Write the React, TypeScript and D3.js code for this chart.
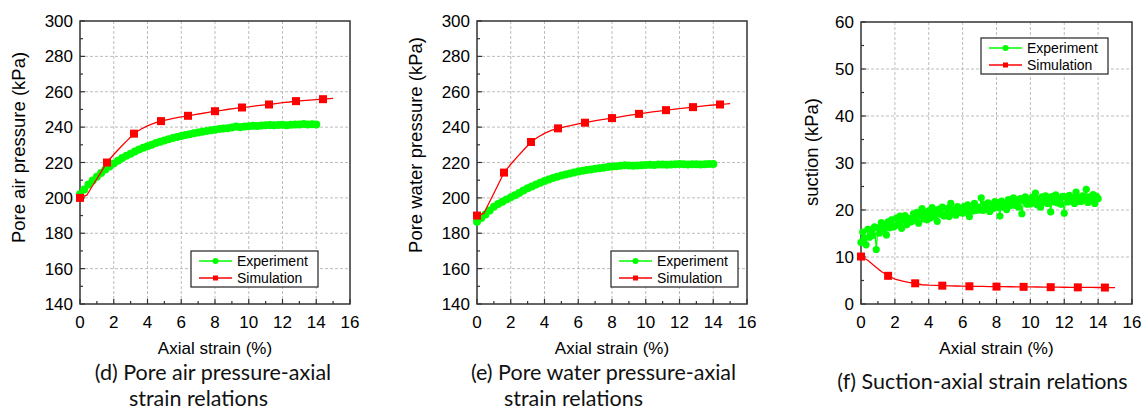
import React, { useRef, useEffect } from 'react';
import * as d3 from 'd3';

// strain (%) of the measured curves in (d) and (e)
const expStrain = [0, 0.25, 0.5, 0.75, 1, 1.25, 1.5, 1.75, 2, 2.25, 2.5, 2.75, 3, 3.25, 3.5, 3.75, 4, 4.25, 4.5, 4.75, 5, 5.25, 5.5, 5.75, 6, 6.25, 6.5, 6.75, 7, 7.25, 7.5, 7.75, 8, 8.25, 8.5, 8.75, 9, 9.25, 9.5, 9.75, 10, 10.25, 10.5, 10.75, 11, 11.25, 11.5, 11.75, 12, 12.25, 12.5, 12.75, 13, 13.25, 13.5, 13.75, 14];

// (d) pore air pressure, experiment (kPa)
const airExp = [202.0, 204.8, 207.5, 209.8, 212.0, 214.0, 216.0, 217.8, 219.5, 221.0, 222.5, 223.8, 225.0, 226.2, 227.3, 228.3, 229.2, 230.1, 231.0, 231.8, 232.5, 233.2, 233.8, 234.4, 235.0, 235.5, 236.0, 236.5, 237.0, 237.4, 237.8, 238.2, 238.5, 238.9, 239.2, 239.4, 239.8, 240.3, 240.0, 240.3, 240.5, 240.8, 240.6, 240.9, 241.0, 241.2, 241.0, 241.2, 241.3, 241.1, 241.4, 241.5, 241.5, 241.7, 241.5, 241.6, 241.5];

// (e) pore water pressure, experiment (kPa)
const waterExp = [186.5, 188.6, 190.6, 192.9, 195.0, 196.5, 197.8, 199.1, 200.3, 201.5, 202.7, 204.1, 205.5, 206.5, 207.5, 208.5, 209.5, 210.4, 211.2, 211.9, 212.6, 213.2, 213.8, 214.3, 214.9, 215.3, 215.7, 216.1, 216.5, 216.8, 217.1, 217.4, 217.7, 217.9, 218.1, 218.5, 218.3, 218.2, 218.3, 218.4, 218.6, 218.7, 218.6, 218.8, 218.8, 218.7, 218.9, 219.0, 219.2, 219.0, 218.9, 219.0, 219.0, 218.9, 219.0, 219.1, 219.2];

// strain (%) of the simulated curves; a marker sits on every 4th point
const simStrain = [0, 0.4, 0.8, 1.2, 1.6, 2.0, 2.4, 2.8, 3.2, 3.6, 4.0, 4.4, 4.8, 5.2, 5.6, 6.0, 6.4, 6.8, 7.2, 7.6, 8.0, 8.4, 8.8, 9.2, 9.6, 10.0, 10.4, 10.8, 11.2, 11.6, 12.0, 12.4, 12.8, 13.2, 13.6, 14.0, 14.4, 14.8, 15.0];
const airSim = [200, 201.5, 207.7, 213.8, 220, 224.5, 228.6, 232.5, 236.3, 238.8, 240.7, 242.2, 243.4, 244.3, 245.1, 245.8, 246.4, 247.1, 247.7, 248.4, 249, 249.5, 250.1, 250.6, 251.1, 251.5, 252, 252.4, 252.8, 253.3, 253.8, 254.2, 254.7, 255, 255.3, 255.6, 255.8, 256.1, 256.2];
const waterSim = [190, 191.2, 198.8, 206.4, 214.3, 219, 223.3, 227.5, 231.6, 234.3, 236.5, 238.1, 239.3, 240.2, 241, 241.8, 242.5, 243.2, 243.9, 244.5, 245.1, 245.7, 246.3, 246.9, 247.5, 248, 248.6, 249.1, 249.6, 250, 250.5, 250.9, 251.3, 251.7, 252.1, 252.5, 252.8, 253.1, 253.3];
const suctionSim = [10.1, 9.3, 8.1, 6.9, 6.0, 5.3, 4.9, 4.6, 4.4, 4.1, 4.0, 3.95, 3.9, 3.87, 3.83, 3.8, 3.77, 3.75, 3.73, 3.71, 3.7, 3.68, 3.67, 3.66, 3.65, 3.63, 3.62, 3.6, 3.58, 3.57, 3.56, 3.55, 3.54, 3.53, 3.52, 3.51, 3.5, 3.5, 3.5];

// (f) suction, experiment (noisy logger record)
const suctionStrain = [
  0, 0.1, 0.2, 0.3, 0.4, 0.5, 0.6, 0.7, 0.8, 0.9,
  1.0, 1.1, 1.2, 1.3, 1.4, 1.5, 1.6, 1.7, 1.8, 1.9,
  2.0, 2.1, 2.2, 2.3, 2.4, 2.5, 2.6, 2.7, 2.8, 2.9,
  3.0, 3.1, 3.2, 3.3, 3.4, 3.5, 3.6, 3.7, 3.8, 3.9,
  4.0, 4.1, 4.2, 4.3, 4.4, 4.5, 4.6, 4.7, 4.8, 4.9,
  5.0, 5.1, 5.2, 5.3, 5.4, 5.5, 5.6, 5.7, 5.8, 5.9,
  6.0, 6.1, 6.2, 6.3, 6.4, 6.5, 6.6, 6.7, 6.8, 6.9,
  7.0, 7.1, 7.2, 7.3, 7.4, 7.5, 7.6, 7.7, 7.8, 7.9,
  8.0, 8.1, 8.2, 8.3, 8.4, 8.5, 8.6, 8.7, 8.8, 8.9,
  9.0, 9.1, 9.2, 9.3, 9.4, 9.5, 9.6, 9.7, 9.8, 9.9,
  10.0, 10.1, 10.2, 10.3, 10.4, 10.5, 10.6, 10.7, 10.8, 10.9,
  11.0, 11.1, 11.2, 11.3, 11.4, 11.5, 11.6, 11.7, 11.8, 11.9,
  12.0, 12.1, 12.2, 12.3, 12.4, 12.5, 12.6, 12.7, 12.8, 12.9,
  13.0, 13.1, 13.2, 13.3, 13.4, 13.5, 13.6, 13.7, 13.8, 13.9,
  14.0,
];
const suctionExp = [
  13.1, 15.3, 14.0, 12.6, 15.9, 14.2, 15.8, 14.6, 16.4, 11.6,
  16.2, 15.1, 17.3, 15.9, 16.8, 14.7, 17.5, 16.2, 17.9, 16.4,
  16.6, 18.3, 17.0, 18.7, 16.1, 17.9, 18.8, 16.9, 18.2, 17.4,
  17.6, 19.2, 18.0, 19.5, 17.2, 18.9, 20.3, 18.1, 19.4, 17.9,
  19.8, 18.3, 20.5, 18.8, 19.9, 17.6, 20.2, 19.1, 20.6, 18.7,
  19.0, 20.3, 18.6, 21.4, 19.2, 20.1, 18.9, 20.7, 19.5, 20.2,
  19.3, 20.8, 19.6, 21.1, 18.6, 20.5, 19.8, 21.4, 19.9, 20.6,
  20.0, 22.6, 19.9, 21.2, 20.4, 21.5, 19.7, 21.0, 20.3, 21.8,
  20.5, 21.6, 18.7, 21.9, 20.6, 21.3, 20.1, 22.2, 20.9, 21.5,
  22.6, 21.0, 21.9, 20.6, 22.4, 19.2, 22.0, 22.8, 21.2, 22.1,
  21.3, 22.7, 21.5, 23.6, 21.1, 22.3, 20.6, 22.8, 21.7, 23.0,
  21.4, 22.6, 19.6, 22.9, 21.7, 23.2, 21.5, 22.5, 21.2, 22.9,
  19.3, 22.8, 21.7, 23.1, 21.9, 22.6, 21.4, 23.8, 21.8, 22.7,
  21.8, 23.0, 22.1, 24.4, 21.6, 22.8, 22.0, 23.3, 21.4, 22.9,
  22.4,
];

const legendNames = ['Experiment', 'Simulation'];

const AXIS_FONT = "'Liberation Sans', Arial, sans-serif";
const CAPTION_FONT = "Lato, 'Open Sans', sans-serif";
const GREEN = '#00ff00';
const RED = '#ff0000';

const panels = [
  {
    left: 80, right: 350, top: 21, bottom: 304,
    yDomain: [140, 300], yMajor: 8, yMinor: 16,
    yLabel: 'Pore air pressure (kPa)', yLabelX: 25, yLabelY: 147.5,
    expX: expStrain, expY: airExp, expR: 4, expW: 1.5,
    simY: airSim,
    legend: { x: 191, y: 251 },
    caption: [
      { text: '(d) Pore air pressure-axial', x: 213, y: 379.5 },
      { text: 'strain relations', x: 198.5, y: 405.5 },
    ],
  },
  {
    left: 477, right: 747, top: 21, bottom: 304,
    yDomain: [140, 300], yMajor: 8, yMinor: 16,
    yLabel: 'Pore water pressure (kPa)', yLabelX: 422, yLabelY: 145,
    expX: expStrain, expY: waterExp, expR: 4, expW: 1.5,
    simY: waterSim,
    legend: { x: 611, y: 251 },
    caption: [
      { text: '(e) Pore water pressure-axial', x: 603.5, y: 379.5 },
      { text: 'strain relations', x: 573.5, y: 405.5 },
    ],
  },
  {
    left: 861, right: 1132, top: 22, bottom: 304,
    yDomain: [0, 60], yMajor: 6, yMinor: 12,
    yLabel: 'suction (kPa)', yLabelX: 818, yLabelY: 152,
    expX: suctionStrain, expY: suctionExp, expR: 3.6, expW: 1.2,
    simY: suctionSim,
    legend: { x: 981, y: 38 },
    caption: [
      { text: '(f) Suction-axial strain relations', x: 982.5, y: 389 },
    ],
  },
];

const drawPanel = (svg, p) => {
  const x = d3.scaleLinear().domain([0, 16]).range([p.left, p.right]);
  const y = d3.scaleLinear().domain(p.yDomain).range([p.bottom, p.top]);
  const g = svg.append('g');

  // dashed grid on inner major ticks
  g.selectAll('.gx')
    .data(x.ticks(8).slice(1, -1))
    .enter()
    .append('line')
    .attr('x1', d => x(d)).attr('x2', d => x(d))
    .attr('y1', p.top).attr('y2', p.bottom)
    .attr('stroke', '#bdbdbd').attr('stroke-dasharray', '3,2');
  g.selectAll('.gy')
    .data(y.ticks(p.yMajor).slice(1, -1))
    .enter()
    .append('line')
    .attr('x1', p.left).attr('x2', p.right)
    .attr('y1', d => y(d)).attr('y2', d => y(d))
    .attr('stroke', '#bdbdbd').attr('stroke-dasharray', '3,2');

  // frame
  g.append('rect')
    .attr('x', p.left).attr('y', p.top)
    .attr('width', p.right - p.left).attr('height', p.bottom - p.top)
    .attr('fill', 'none').attr('stroke', '#333').attr('stroke-width', 1.5);

  // inward ticks
  const majX = x.ticks(8);
  g.selectAll('.tx')
    .data(x.ticks(16))
    .enter()
    .append('line')
    .attr('x1', d => x(d)).attr('x2', d => x(d))
    .attr('y1', p.bottom)
    .attr('y2', d => p.bottom - (majX.includes(d) ? 5 : 3))
    .attr('stroke', '#333').attr('stroke-width', 1.2);
  const majY = y.ticks(p.yMajor);
  g.selectAll('.ty')
    .data(y.ticks(p.yMinor))
    .enter()
    .append('line')
    .attr('y1', d => y(d)).attr('y2', d => y(d))
    .attr('x1', p.left)
    .attr('x2', d => p.left + (majY.includes(d) ? 5 : 3))
    .attr('stroke', '#333').attr('stroke-width', 1.2);

  // tick labels
  g.selectAll('.lx')
    .data(majX)
    .enter()
    .append('text')
    .attr('x', d => x(d)).attr('y', 328)
    .attr('text-anchor', 'middle')
    .style('font-family', AXIS_FONT).style('font-size', '17px')
    .text(d => d);
  g.selectAll('.ly')
    .data(majY)
    .enter()
    .append('text')
    .attr('x', p.left - 7).attr('y', d => y(d))
    .attr('dy', '0.36em')
    .attr('text-anchor', 'end')
    .style('font-family', AXIS_FONT).style('font-size', '17px')
    .text(d => d);

  // axis titles
  g.append('text')
    .attr('x', (p.left + p.right) / 2).attr('y', 354)
    .attr('text-anchor', 'middle')
    .style('font-family', AXIS_FONT).style('font-size', '17px')
    .text('Axial strain (%)');
  g.append('text')
    .attr('transform', `translate(${p.yLabelX},${p.yLabelY}) rotate(-90)`)
    .attr('text-anchor', 'middle')
    .style('font-family', AXIS_FONT).style('font-size', '18.5px')
    .text(p.yLabel);

  // experiment
  const exp = p.expX.map((s, i) => [s, p.expY[i]]);
  const line = d3.line().x(d => x(d[0])).y(d => y(d[1]));
  g.append('path')
    .datum(exp)
    .attr('d', line)
    .attr('fill', 'none').attr('stroke', GREEN).attr('stroke-width', p.expW);
  g.selectAll('.ec')
    .data(exp)
    .enter()
    .append('circle')
    .attr('cx', d => x(d[0])).attr('cy', d => y(d[1]))
    .attr('r', p.expR)
    .attr('fill', GREEN);

  // simulation
  const sim = simStrain.map((s, i) => [s, p.simY[i]]);
  g.append('path')
    .datum(sim)
    .attr('d', line)
    .attr('fill', 'none').attr('stroke', RED).attr('stroke-width', 1.3);
  g.selectAll('.sm')
    .data(sim.filter((d, i) => i % 4 === 0 && i <= 36))
    .enter()
    .append('rect')
    .attr('x', d => x(d[0]) - 4).attr('y', d => y(d[1]) - 4)
    .attr('width', 8).attr('height', 8)
    .attr('fill', RED);

  // legend
  const lg = g.append('g').attr('transform', `translate(${p.legend.x},${p.legend.y})`);
  lg.append('rect')
    .attr('width', 127).attr('height', 36)
    .attr('fill', '#fff').attr('stroke', '#222').attr('stroke-width', 1.2);
  legendNames.forEach((name, i) => {
    const cy = 10 + i * 17;
    const col = i === 0 ? GREEN : RED;
    lg.append('line')
      .attr('x1', 8).attr('x2', 41).attr('y1', cy).attr('y2', cy)
      .attr('stroke', col).attr('stroke-width', 1.3);
    if (i === 0) {
      lg.append('circle').attr('cx', 24.5).attr('cy', cy).attr('r', 3).attr('fill', col);
    } else {
      lg.append('rect').attr('x', 22).attr('y', cy - 2.5).attr('width', 5).attr('height', 5).attr('fill', col);
    }
    lg.append('text')
      .attr('x', 46).attr('y', cy).attr('dy', '0.36em')
      .style('font-family', AXIS_FONT).style('font-size', '14px')
      .text(name);
  });

  // caption
  p.caption.forEach(c => {
    g.append('text')
      .attr('x', c.x).attr('y', c.y)
      .attr('text-anchor', 'middle')
      .style('font-family', CAPTION_FONT).style('font-size', '21.5px')
      .attr('fill', '#111')
      .text(c.text);
  });
};

const App = () => {
  const svgRef = useRef(null);

  useEffect(() => {
    const svg = d3.select(svgRef.current);
    svg.selectAll('*').remove();
    panels.forEach(p => drawPanel(svg, p));
    return () => {
      d3.select(svgRef.current).selectAll('*').remove();
    };
  }, []);

  return (
    <svg
      ref={svgRef}
      width={1142}
      height={411}
      style={{ position: 'absolute', left: 0, top: 0, background: '#fff' }}
    />
  );
};

export default App;
